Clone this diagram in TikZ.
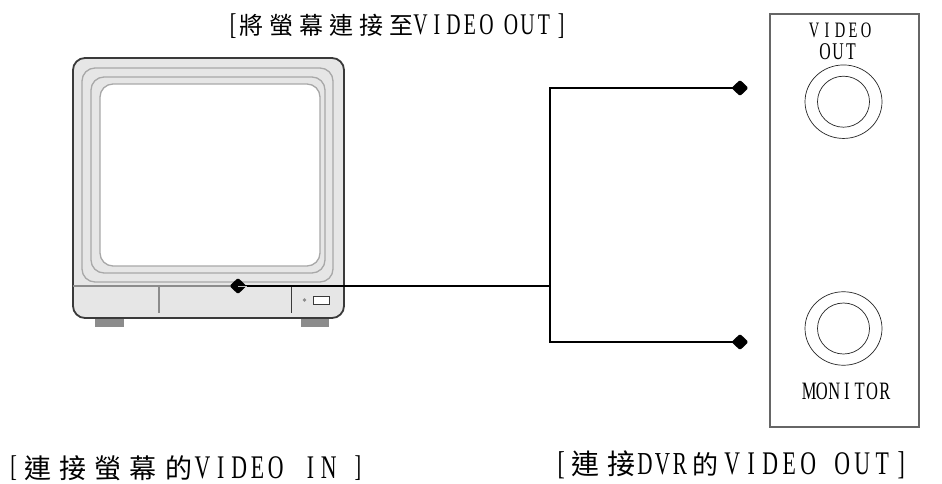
\documentclass[tikz,border=0pt]{standalone}
\usepackage{fontspec}
\usetikzlibrary{shapes.geometric}
\setmainfont[FakeStretch=0.66]{Liberation Serif}
\newfontfamily\cjkf{Noto Sans CJK TC}
\makeatletter
\newcommand{\spaced}[2]{\@tfor\sp@ch:=#2\do{\makebox[#1pt][c]{\sp@ch}}}
\makeatother
\newcommand{\lat}[3]{{\fontsize{#1}{#1}\selectfont\spaced{#2}{#3}}}
\newcommand{\han}[3]{{\fontsize{#1}{#1}\cjkf\spaced{#2}{#3}}}
\newcommand{\gap}[1]{\hspace*{#1pt}}
\definecolor{bodygrey}{HTML}{E6E6E6}
\definecolor{ringgrey}{HTML}{A8A8A8}
\definecolor{edgegrey}{HTML}{3A3A3A}
\definecolor{footgrey}{HTML}{8C8C8C}
\tikzset{
  px/.style={x=1pt,y=-1pt},
  wire/.style={draw=black,line width=1.6pt},
  tip/.style={diamond,fill=black,inner sep=0pt,minimum width=17pt,minimum height=16.5pt,rounded corners=1.5pt},
  jack/.style={ellipse,draw=black!85,line width=.7pt,inner sep=0pt},
  caption/.style={inner sep=0pt,anchor=base west},
  panellabel/.style={inner sep=0pt,anchor=base},
  ring/.style={draw=ringgrey,line width=1.3pt,rounded corners=13pt},
}
\begin{document}
\begin{tikzpicture}[px]
\useasboundingbox (0,0) rectangle (942,484);
\fill[white] (0,0) rectangle (942,484);
% monitor
\fill[footgrey] (95,316) rectangle (124,327);
\fill[footgrey] (301,316) rectangle (329,327);
\draw[draw=edgegrey,fill=bodygrey,line width=1.8pt,rounded corners=12pt] (73,58) rectangle (344,318);
\draw[ring] (82,68) rectangle (333,282);
\draw[ring] (91,77) rectangle (325,273);
\draw[ring,fill=white] (100,84) rectangle (320,266);
\draw[draw=footgrey,line width=1.2pt] (73,286) -- (344,286);
\draw[draw=footgrey,line width=1.4pt] (159,286) -- (159,313);
\draw[draw=edgegrey,line width=.9pt] (291,286) -- (291,313);
\fill[footgrey] (304.5,300) circle (1.8);
\draw[draw=edgegrey,fill=white,line width=.9pt] (313,296) rectangle (329,304);
% panel
\draw[draw=black!60,line width=1.1pt] (770,14) rectangle (919,427);
\node[jack,minimum width=77pt,minimum height=73.5pt] (outA) at (843.5,101.7) {};
\node[jack,minimum width=52pt,minimum height=51pt] (inA) at (843.5,101.7) {};
\node[jack,minimum width=77pt,minimum height=73.5pt] (outB) at (843.5,328.5) {};
\node[jack,minimum width=52pt,minimum height=51pt] (inB) at (843.5,328.5) {};
% connectors
\node[tip] (src) at (238,286) {};
\node[tip] (tipA) at (740,88) {};
\node[tip] (tipB) at (740,342) {};
\coordinate (joint) at (550,286);
\draw[wire] (src.center) -- (joint);
\draw[wire] (tipA.center) -| (joint);
\draw[wire] (tipB.center) -| (joint);
\draw[draw=white!75!black,line width=.7pt] (src.center) -- (src.east);
% labels
\node[panellabel] (lv) at (840,38) {\lat{22}{13}{VIDEO}};
\node[panellabel] (lo) at (838,60) {\lat{24}{13}{OUT}};
\node[panellabel] (lm) at (847,399) {\lat{25}{12.6}{MONITOR}};
\node[caption] (top) at (230,35) {\lat{30}{6}{[}\han{24}{30}{將螢幕連接至}\gap{-4}\lat{30}{16.5}{VIDEO}\gap{8}\lat{30}{16.5}{OUT}\lat{30}{18}{]}};
\node[caption] (bl) at (7,478.5) {\raisebox{2pt}{\lat{30}{12.7}{[}}\han{27}{35.3}{連接螢幕的}\gap{-3}\lat{33}{18.3}{VIDEO}\gap{16.5}\lat{33}{18.3}{IN}\gap{11}\raisebox{2pt}{\lat{30}{18}{]}}};
\node[caption] (br) at (555,474) {\lat{33}{12}{[}\han{28}{36}{連接}\gap{-3}\lat{32}{17.5}{DVR}\gap{2.5}\han{26}{28}{的}\gap{3.5}\lat{33}{19}{VIDEO}\gap{14.5}\lat{33}{20}{OUT}\lat{33}{18}{]}};
\end{tikzpicture}
\end{document}
